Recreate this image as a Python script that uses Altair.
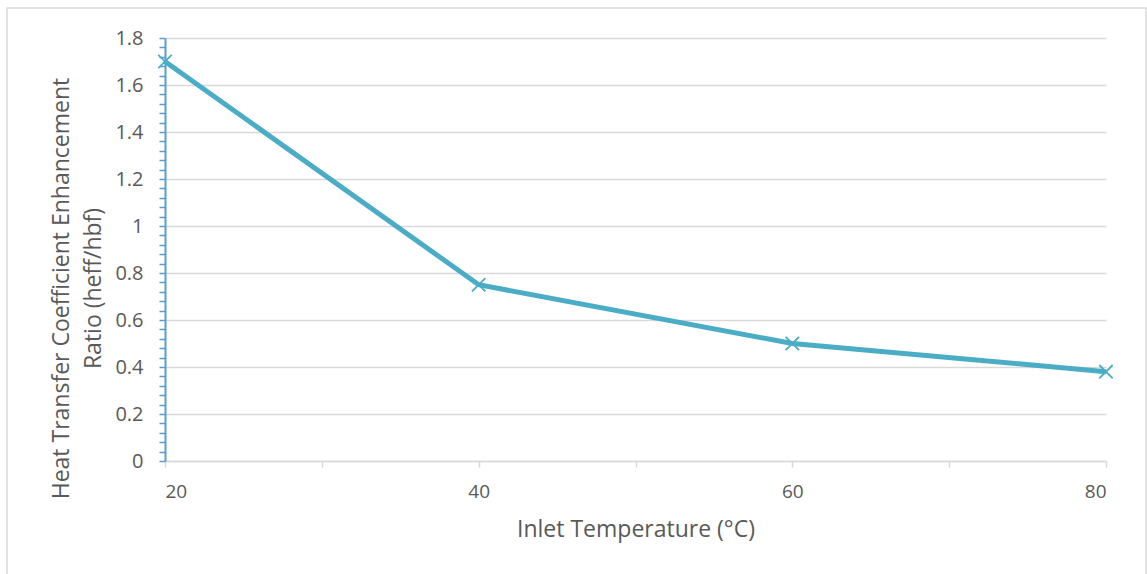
import altair as alt
import pandas as pd

# Measured enhancement ratio at each inlet temperature
inlet_temp_c = [20, 40, 60, 80]
enhancement_ratio = [1.70, 0.75, 0.50, 0.38]

# Axis tick positions
x_ticks = [20, 30, 40, 50, 60, 70, 80]
y_ticks = [round(i * 0.04, 2) for i in range(46)]  # minor step 0.04, labelled every 0.2

FONT = "Open Sans"
TEXT = "#595959"
LINE = "#4BACC6"
YAXIS = "#5B9BD5"
GRID = "#D9D9D9"

W, H = 941, 423
PAD_L, PAD_T = 165, 38

IS_MAJOR = "abs(datum.value * 5 - round(datum.value * 5)) < 0.001"

df = pd.DataFrame({"temp": inlet_temp_c, "ratio": enhancement_ratio})

x_enc = alt.X(
    "temp:Q",
    scale=alt.Scale(domain=[20, 80], nice=False, zero=False),
    axis=alt.Axis(
        title="Inlet Temperature (°C)",
        values=x_ticks,
        tickCount=50,
        labelExpr="datum.value % 20 == 0 ? datum.label : ''",
        grid=False,
        domainColor=GRID,
        domainWidth=1.5,
        tickColor=GRID,
        tickWidth=1.5,
        tickSize=6,
        labelPadding=15,
        labelFont=FONT,
        labelFontSize=19,
        labelColor=TEXT,
        titleFont=FONT,
        titleFontSize=23,
        titleFontWeight="normal",
        titleColor=TEXT,
        titlePadding=17,
    ),
)

y_enc = alt.Y(
    "ratio:Q",
    scale=alt.Scale(domain=[0, 1.8], nice=False),
    axis=alt.Axis(
        title=["Heat Transfer Coefficient Enhancement", "Ratio (heff/hbf)"],
        values=y_ticks,
        tickCount=100,
        labelExpr=f"{IS_MAJOR} ? format(datum.value, '.1~f') : ''",
        grid=True,
        gridColor=GRID,
        gridWidth=1.5,
        gridOpacity={"condition": {"test": IS_MAJOR, "value": 1}, "value": 0},
        domainColor=YAXIS,
        domainWidth=2,
        tickColor=YAXIS,
        tickWidth=1.5,
        tickSize=6,
        labelPadding=16,
        labelFont=FONT,
        labelFontSize=20,
        labelColor=TEXT,
        labelOverlap=False,
        titleFont=FONT,
        titleFontSize=23,
        titleFontWeight="normal",
        titleColor=TEXT,
        titleLineHeight=32,
        titlePadding=9,
        titleY=250,
    ),
)

line = alt.Chart(df).mark_line(color=LINE, strokeWidth=5).encode(x=x_enc, y=y_enc)

markers = alt.Chart(df).mark_point(
    shape="M-1,-1L1,1M-1,1L1,-1",
    size=180,
    filled=False,
    stroke=LINE,
    strokeWidth=1.8,
    opacity=1,
).encode(x="temp:Q", y="ratio:Q")

# Outer chart frame
frame = alt.Chart(pd.DataFrame({"k": [0]})).mark_rect(
    fill=None, stroke=GRID, strokeWidth=1.5
).encode(
    x=alt.value(7 - PAD_L),
    x2=alt.value(1146 - PAD_L),
    y=alt.value(8 - PAD_T),
    y2=alt.value(580 - PAD_T),
)

chart = (
    alt.layer(frame, line, markers)
    .properties(
        width=W,
        height=H,
        autosize=alt.AutoSizeParams(type="none"),
        padding={"left": PAD_L, "top": PAD_T, "right": 1147 - PAD_L - W, "bottom": 574 - PAD_T - H},
        background="white",
    )
    .configure_view(stroke=None)
)

chart.save("out.html", embed_options={"renderer": "svg", "actions": False})
